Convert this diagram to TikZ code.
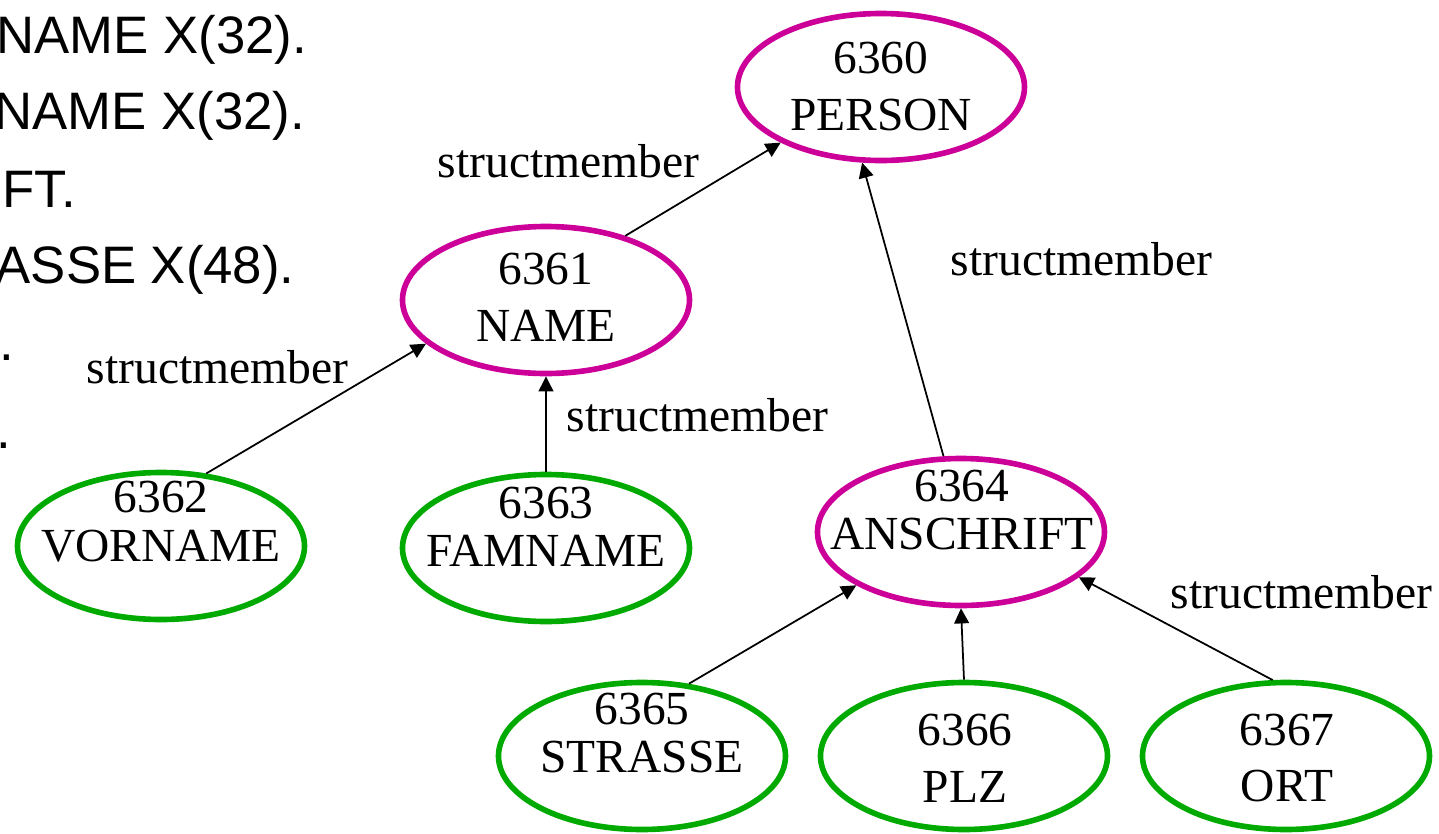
\documentclass[tikz,border=0pt]{standalone}
\usepackage{fontspec}
\setmainfont{Liberation Serif}
\newfontfamily\codefont{Liberation Sans}
\usetikzlibrary{shapes.geometric,arrows.meta}
\definecolor{grppink}{RGB}{204,0,153}
\definecolor{fldgreen}{RGB}{0,170,0}
\tikzset{
    rec/.style={ellipse,draw,line width=1.6pt,minimum width=2.87cm,minimum height=1.47cm,inner sep=0pt},
    lbl/.style={align=center,inner sep=0pt,font=\fontsize{13.5}{16.2}\selectfont},
    lbltight/.style={lbl,font=\fontsize{13.5}{13.8}\selectfont},
    mem/.style={-{Triangle[length=4.3pt,width=4.2pt]},line width=0.5pt},
    memtext/.style={anchor=base west,inner sep=0pt,font=\fontsize{13.55}{16}\selectfont},
    code/.style={anchor=base west,inner sep=0pt,font=\codefont\fontsize{15}{18}\selectfont}
}
\begin{document}
\begin{tikzpicture}
    \useasboundingbox (0,0) rectangle (14.39,-8.34);
    % listing, cut off at the left edge
    \node[code] (c1) at (-0.04,-0.53) {NAME X(32).};
    \node[code] (c2) at (-0.06,-1.29) {NAME X(32).};
    \node[code] (c3) at (0.02,-2.07) {FT.};
    \node[code] (c4) at (-0.05,-2.83) {ASSE X(48).};
    \node[code] (c5) at (-0.01,-3.60) {.};
    \node[code] (c6) at (-0.04,-4.48) {.};
    % records
    \foreach \n/\x/\y/\c in {6360/8.81/-0.87/grppink,6361/5.46/-3.00/grppink,6364/9.61/-5.32/grppink,
        6362/1.61/-5.46/fldgreen,6363/5.46/-5.48/fldgreen,6365/6.42/-7.56/fldgreen,
        6366/9.64/-7.56/fldgreen,6367/12.86/-7.56/fldgreen}{
        \node[rec,draw=\c] (n\n) at (\x,\y) {};
    }
    \node[lbl] (t6360) at (8.81,-0.86) {6360\\PERSON};
    \node[lbl] (t6361) at (5.46,-2.975) {6361\\NAME};
    \node[lbltight] (t6362) at (1.61,-5.215) {6362\\VORNAME};
    \node[lbltight] (t6363) at (5.46,-5.27) {6363\\FAMNAME};
    \node[lbltight] (t6364) at (9.62,-5.10) {6364\\ANSCHRIFT};
    \node[lbltight] (t6365) at (6.42,-7.33) {6365\\STRASSE};
    \node[lbl] (t6366) at (9.65,-7.58) {6366\\PLZ};
    \node[lbl] (t6367) at (12.87,-7.58) {6367\\ORT};
    % structmember links
    \draw[mem] (n6361.39.5) -- (n6360.209.4);
    \draw[mem] (n6364.103) -- (n6360.256.4);
    \draw[mem] (n6362.58.3) -- (n6361.200.8);
    \draw[mem] (n6363.north) -- (n6361.south);
    \draw[mem] (n6365.57.2) -- (n6364.207);
    \draw[mem] (n6366.north) -- (n6364.south);
    \draw[mem] (n6367.100.6) -- (n6364.339.9);
    \node[memtext] (m1) at (4.37,-1.77) {structmember};
    \node[memtext] (m2) at (9.50,-2.75) {structmember};
    \node[memtext] (m3) at (0.86,-3.83) {structmember};
    \node[memtext] (m4) at (5.66,-4.31) {structmember};
    \node[memtext] (m5) at (11.70,-6.08) {structmember};
\end{tikzpicture}
\end{document}
